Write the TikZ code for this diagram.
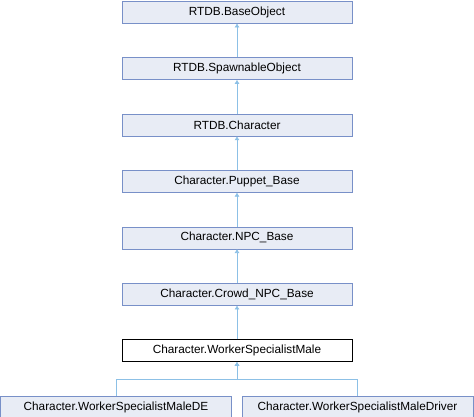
\documentclass[tikz,border=0pt]{standalone}
\usepackage{fontspec}
\setmainfont{Liberation Sans}
\usetikzlibrary{arrows.meta,positioning}

\definecolor{boxfill}{RGB}{232,236,245}
\definecolor{boxline}{RGB}{120,144,200}
\definecolor{edgeline}{RGB}{140,192,230}

\begin{document}
\begin{tikzpicture}[
  box/.style={draw=boxline, fill=boxfill, minimum width=230pt, minimum height=22pt, inner sep=0pt, font=\fontsize{11.8pt}{14pt}\selectfont},
  current/.style={box, draw=black, fill=white},
  arr/.style={-{Latex[length=4pt,width=5pt]}, edgeline, semithick},
  node distance=34pt
]
\useasboundingbox (0,0) rectangle (474pt,-416pt);

\node[box, anchor=north] (base) at (237pt,-1pt) {RTDB.BaseObject};
\node[box, below=of base] (spawn) {RTDB.SpawnableObject};
\node[box, below=of spawn] (chr) {RTDB.Character};
\node[box, below=of chr] (puppet) {Character.Puppet\_Base};
\node[box, below=of puppet] (npc) {Character.NPC\_Base};
\node[box, below=of npc] (crowd) {Character.Crowd\_NPC\_Base};
\node[current, below=of crowd] (wsm) {Character.WorkerSpecialistMale};

\node[box, minimum width=231pt, below=of wsm, xshift=-121pt] (de) {Character.WorkerSpecialistMaleDE};
\node[box, minimum width=231pt, below=of wsm, xshift=120.5pt] (driver) {Character.WorkerSpecialistMaleDriver};

\draw[arr] (spawn) -- (base);
\draw[arr] (chr) -- (spawn);
\draw[arr] (puppet) -- (chr);
\draw[arr] (npc) -- (puppet);
\draw[arr] (crowd) -- (npc);
\draw[arr] (wsm) -- (crowd);

\draw[arr] (de.north) -- ++(0,17pt) -| (wsm.south);
\draw[arr] (driver.north) -- ++(0,17pt) -| (wsm.south);

\end{tikzpicture}
\end{document}
